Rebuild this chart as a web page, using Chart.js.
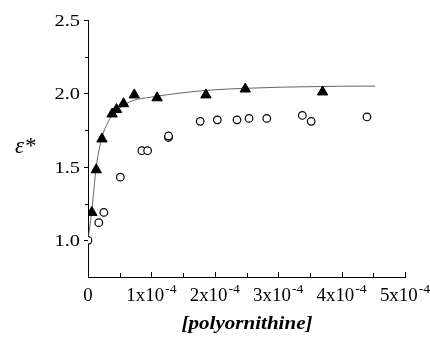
<!DOCTYPE html>
<html>
<head>
<meta charset="utf-8">
<script src="https://cdn.jsdelivr.net/npm/chart.js@4/dist/chart.umd.min.js"></script>
<style>
html, body { margin: 0; padding: 0; background: #fff; }
#wrap { width: 430px; height: 338px; }
.fontwarm { position: absolute; left: -999px; top: 0; font-family: 'Liberation Serif'; }
</style>
</head>
<body>
<span class="fontwarm">0 <i>a</i> <b><i>b</i></b></span>
<div id="wrap"><canvas id="chart"></canvas></div>
<script>
// concentrations are in units of 1x10^-4
const triX = [0.06, 0.13, 0.22, 0.38, 0.45, 0.56, 0.73, 1.09, 1.86, 2.48, 3.70];
const triY = [1.19, 1.48, 1.69, 1.86, 1.89, 1.93, 1.99, 1.97, 1.99, 2.03, 2.01];

const circX = [0.00, 0.17, 0.25, 0.51, 0.85, 0.94, 1.27, 1.27, 1.77, 2.04, 2.35, 2.54, 2.82, 3.38, 3.52, 4.40];
const circY = [1.00, 1.12, 1.19, 1.43, 1.61, 1.61, 1.70, 1.71, 1.81, 1.82, 1.82, 1.83, 1.83, 1.85, 1.81, 1.84];

// fitted curve
const fitX = [0, 0.06, 0.13, 0.22, 0.30, 0.38, 0.50, 0.70, 1.00, 1.50, 2.00, 2.50, 3.00, 3.50, 4.00, 4.53];
const fitY = [1.00, 1.20, 1.50, 1.70, 1.79, 1.85, 1.90, 1.95, 1.975, 2.005, 2.025, 2.035, 2.042, 2.046, 2.049, 2.05];

const xTickVals = [0, 1, 2, 3, 4, 5];
const xTickText = ['0', '1x10', '2x10', '3x10', '4x10', '5x10'];
const xTickSup = ['', '-4', '-4', '-4', '-4', '-4'];
const yTickVals = [1.0, 1.5, 2.0, 2.5];

const toPts = (xs, ys) => xs.map((x, i) => ({x: x, y: ys[i]}));

const SERIF = "'Liberation Serif'";

function stretchText(ctx, text, x, y, align, stretch)
{
	const w = ctx.measureText(text).width * stretch;
	let x0 = x;
	if (align === 'center') x0 = x - w / 2;
	if (align === 'right') x0 = x - w;
	ctx.save();
	ctx.translate(x0, y);
	ctx.scale(stretch, 1);
	ctx.textAlign = 'left';
	ctx.fillText(text, 0, 0);
	ctx.restore();
	return w;
}

const axesPlugin = {
	id: 'axesPlugin',
	afterDraw(chart) {
		const ctx = chart.ctx;
		const xs = chart.scales.x;
		const ys = chart.scales.y;
		ctx.save();
		ctx.strokeStyle = '#000';
		ctx.fillStyle = '#000';
		ctx.lineWidth = 1;

		// x ticks point up into the plot
		for (let v = 0; v <= 5; v += 0.5) {
			const px = Math.round(xs.getPixelForValue(v)) + 0.5;
			const len = Number.isInteger(v) ? 5 : 4;
			ctx.beginPath();
			ctx.moveTo(px, ys.bottom);
			ctx.lineTo(px, ys.bottom - len);
			ctx.stroke();
		}
		// y ticks point left
		for (let v = 1.0; v <= 2.5; v += 0.25) {
			const py = Math.round(ys.getPixelForValue(v)) + 0.5;
			const len = (v * 2) % 1 === 0 ? 4 : 3;
			ctx.beginPath();
			ctx.moveTo(xs.left, py);
			ctx.lineTo(xs.left - len, py);
			ctx.stroke();
		}

		// x labels with superscript, whole label centred on the tick
		const xs1 = 1.05;
		xTickVals.forEach((v, i) => {
			const px = xs.getPixelForValue(v);
			ctx.font = '18px ' + SERIF;
			const w = ctx.measureText(xTickText[i]).width * xs1;
			let ws = 0;
			if (xTickSup[i]) {
				ctx.font = '13px ' + SERIF;
				ws = ctx.measureText(xTickSup[i]).width * xs1 + 1;
			}
			const x0 = px - (w + ws) / 2;
			ctx.font = '18px ' + SERIF;
			stretchText(ctx, xTickText[i], x0, ys.bottom + 24, 'left', xs1);
			if (xTickSup[i]) {
				ctx.font = '13px ' + SERIF;
				stretchText(ctx, xTickSup[i], x0 + w + 1, ys.bottom + 16, 'left', xs1);
			}
		});

		// y labels
		ctx.font = '17px ' + SERIF;
		yTickVals.forEach(v => {
			const py = ys.getPixelForValue(v);
			stretchText(ctx, v.toFixed(1), xs.left - 8, py + 6, 'right', 1.2);
		});

		// axis titles
		ctx.font = 'italic bold 18px ' + SERIF;
		stretchText(ctx, '[polyornithine]', 247, 329, 'center', 1.17);
		ctx.font = 'italic 23px ' + SERIF;
		ctx.fillText('\u03b5*', 15, 153);
		ctx.restore();
	}
};

function drawChart()
{
	new Chart(document.getElementById('chart').getContext('2d'), {
		type: 'scatter',
		data: {
			datasets: [
				{
					label: 'triangles',
					data: toPts(triX, triY),
					pointStyle: 'triangle',
					pointRadius: 6,
					backgroundColor: '#000',
					borderColor: '#000',
					borderWidth: 1,
					order: 1
				},
				{
					label: 'circles',
					data: toPts(circX, circY),
					pointStyle: 'circle',
					pointRadius: 3.8,
					backgroundColor: '#fff',
					borderColor: '#000',
					borderWidth: 1.2,
					order: 2
				},
				{
					label: 'fit',
					data: toPts(fitX, fitY),
					showLine: true,
					pointRadius: 0,
					borderColor: '#555',
					borderWidth: 0.9,
					cubicInterpolationMode: 'monotone',
					order: 3
				}
			]
		},
		options: {
			responsive: true,
			maintainAspectRatio: false,
			animation: false,
			layout: { padding: { top: 20, right: 25, bottom: 0, left: 0 } },
			plugins: {
				legend: { display: false },
				tooltip: { enabled: false }
			},
			scales: {
				x: {
					type: 'linear',
					min: 0,
					max: 5,
					ticks: { display: false },
					grid: { display: false },
					border: { display: true, color: '#000', width: 1 },
					afterFit: scale => { scale.height = 61; }
				},
				y: {
					type: 'linear',
					min: 0.75,
					max: 2.5,
					ticks: { display: false },
					grid: { display: false },
					border: { display: true, color: '#000', width: 1 },
					afterFit: scale => { scale.width = 88; }
				}
			}
		},
		plugins: [axesPlugin]
	});
}

Promise.all([
	document.fonts.load("17px 'Liberation Serif'"),
	document.fonts.load("italic 23px 'Liberation Serif'"),
	document.fonts.load("italic bold 18px 'Liberation Serif'")
]).then(drawChart, drawChart);
</script>
</body>
</html>
